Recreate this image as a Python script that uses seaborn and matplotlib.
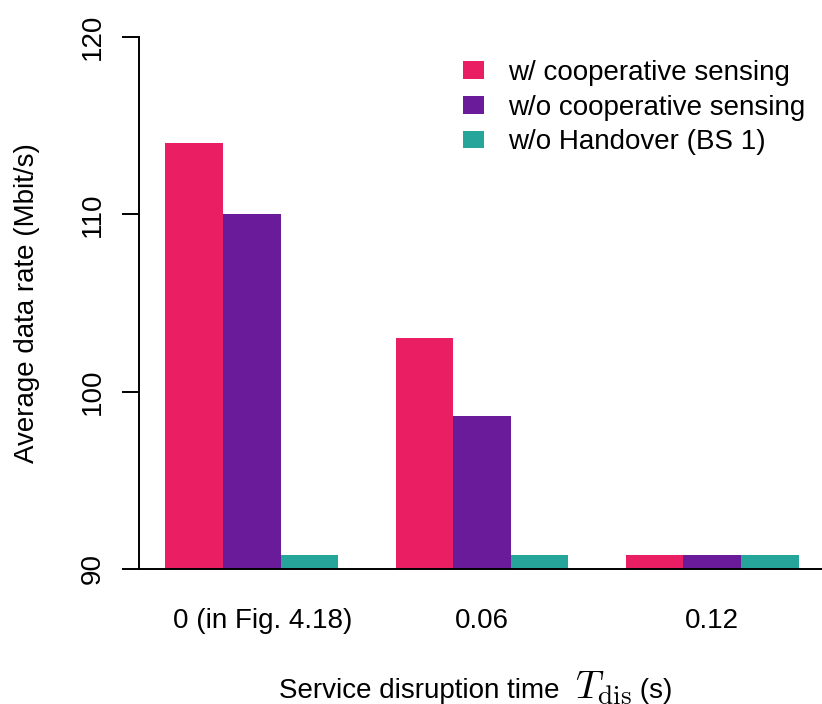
import matplotlib
matplotlib.use("Agg")
import matplotlib.pyplot as plt
import matplotlib.transforms as mtransforms
from matplotlib.patches import Patch
from matplotlib.offsetbox import TextArea, HPacker, AnnotationBbox
import pandas as pd
import seaborn as sns

# Data: average data rate (Mbit/s) per service disruption time
disruption = ["0 (in Fig. 4.18)", "0.06", "0.12"]
schemes = ["w/ cooperative sensing", "w/o cooperative sensing", "w/o Handover (BS 1)"]
rate_coop = [114.0, 103.0, 90.8]
rate_no_coop = [110.0, 98.6, 90.8]
rate_no_handover = [90.8, 90.8, 90.8]
colors = ["#E91E63", "#6A1B9A", "#26A69A"]
yticks = [90, 100, 110, 120]

df = pd.DataFrame({
    "T": disruption * 3,
    "scheme": [s for s in schemes for _ in disruption],
    "rate": rate_coop + rate_no_coop + rate_no_handover,
})

sns.set_style("white")
plt.rcParams["font.family"] = ["Liberation Sans", "DejaVu Sans"]
plt.rcParams["mathtext.fontset"] = "cm"
plt.rcParams["text.color"] = "black"
plt.rcParams["axes.labelcolor"] = "black"
plt.rcParams["xtick.color"] = "black"
plt.rcParams["ytick.color"] = "black"

FS = 20
W, H = 822, 704
fig = plt.figure(figsize=(W / 100, H / 100), dpi=100)
ax = fig.add_axes([139 / W, 135 / H, 686 / W, 532 / H])

sns.barplot(data=df, x="T", y="rate", hue="scheme", order=disruption,
            hue_order=schemes, palette=colors, width=0.75, saturation=1,
            linewidth=0, errorbar=None, legend=False, ax=ax)

ax.set_ylim(90, 120)
ax.set_xlim(-0.49, 2.49)
ax.set_yticks(yticks)
ax.set_yticklabels([str(t) for t in yticks], rotation=90, va="center")

for side in ("top", "right"):
    ax.spines[side].set_visible(False)
for side in ("left", "bottom"):
    ax.spines[side].set_linewidth(1.4)
    ax.spines[side].set_color("black")

ax.tick_params(axis="y", direction="out", length=12.2, width=1.4,
               labelsize=FS, pad=12, left=True, colors="black")
ax.tick_params(axis="x", length=0, labelsize=FS, pad=28, colors="black")

# the first category label sits slightly right of its group centre
first = ax.get_xticklabels()[0]
first.set_transform(first.get_transform() +
                    mtransforms.ScaledTranslation(11 / 100, 0, fig.dpi_scale_trans))

ax.set_ylabel("Average data rate (Mbit/s)", fontsize=FS, labelpad=28)
ax.set_xlabel("")

# x-axis title with a larger math symbol for T_dis
parts = [
    TextArea("Service disruption time  ", textprops=dict(fontsize=FS, color="black")),
    TextArea(r"$T_{\mathrm{dis}}$", textprops=dict(fontsize=FS * 1.4, color="black")),
    TextArea(" (s)", textprops=dict(fontsize=FS, color="black")),
]
title_box = HPacker(children=parts, align="baseline", pad=0, sep=0)
ab = AnnotationBbox(title_box, (476 / W, (H - 688) / H), xycoords="figure fraction",
                    box_alignment=(0.5, 0.5), frameon=False, pad=0)
fig.add_artist(ab)

handles = [Patch(facecolor=c, edgecolor="none") for c in colors]
fig.legend(handles, schemes, loc="upper left",
           bbox_to_anchor=(463 / W, (H - 60) / H), frameon=False,
           fontsize=FS, handlelength=0.76, handleheight=0.61,
           handletextpad=0.86, labelspacing=0.31, borderpad=0,
           borderaxespad=0)

fig.savefig("out.png", dpi=100)
